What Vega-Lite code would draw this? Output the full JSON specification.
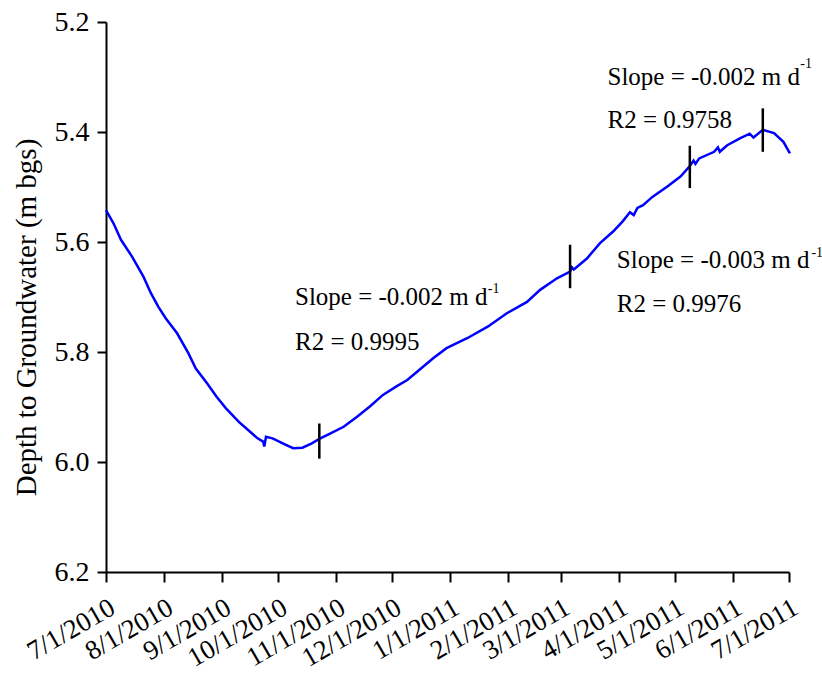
{
  "$schema": "https://vega.github.io/schema/vega-lite/v6.json",
  "width": 683,
  "height": 550,
  "autosize": {"type": "none"},
  "padding": {"left": 106, "top": 22, "right": 33, "bottom": 105},
  "background": "white",
  "config": {
    "view": {"stroke": null},
    "font": "Liberation Serif",
    "axis": {
      "grid": false,
      "domainColor": "black",
      "domainWidth": 2,
      "tickColor": "black",
      "tickWidth": 2,
      "labelColor": "black",
      "titleColor": "black",
      "labelFont": "Liberation Serif",
      "titleFont": "Liberation Serif",
      "titleFontWeight": "normal",
      "labelFlush": false
    }
  },
  "datasets": {
    "depth": [
      {"date": "2010-07-01", "depth": 5.542},
      {"date": "2010-07-05", "depth": 5.566},
      {"date": "2010-07-09", "depth": 5.596},
      {"date": "2010-07-15", "depth": 5.627},
      {"date": "2010-07-21", "depth": 5.663},
      {"date": "2010-07-25", "depth": 5.693},
      {"date": "2010-07-29", "depth": 5.718},
      {"date": "2010-08-02", "depth": 5.739},
      {"date": "2010-08-08", "depth": 5.766},
      {"date": "2010-08-14", "depth": 5.802},
      {"date": "2010-08-18", "depth": 5.830},
      {"date": "2010-08-24", "depth": 5.857},
      {"date": "2010-08-29", "depth": 5.881},
      {"date": "2010-09-03", "depth": 5.902},
      {"date": "2010-09-10", "depth": 5.927},
      {"date": "2010-09-16", "depth": 5.945},
      {"date": "2010-09-20", "depth": 5.957},
      {"date": "2010-09-23T00:00Z", "depth": 5.963},
      {"date": "2010-09-23T14:00Z", "depth": 5.972},
      {"date": "2010-09-24T12:00Z", "depth": 5.954},
      {"date": "2010-09-28", "depth": 5.957},
      {"date": "2010-10-04", "depth": 5.967},
      {"date": "2010-10-09", "depth": 5.975},
      {"date": "2010-10-14", "depth": 5.974},
      {"date": "2010-10-19", "depth": 5.966},
      {"date": "2010-10-23", "depth": 5.958},
      {"date": "2010-10-29", "depth": 5.948},
      {"date": "2010-11-05", "depth": 5.936},
      {"date": "2010-11-12", "depth": 5.918},
      {"date": "2010-11-19", "depth": 5.899},
      {"date": "2010-11-26", "depth": 5.878},
      {"date": "2010-12-03", "depth": 5.863},
      {"date": "2010-12-09", "depth": 5.851},
      {"date": "2010-12-16", "depth": 5.831},
      {"date": "2010-12-23", "depth": 5.811},
      {"date": "2010-12-30", "depth": 5.793},
      {"date": "2011-01-10", "depth": 5.775},
      {"date": "2011-01-21", "depth": 5.754},
      {"date": "2011-01-31", "depth": 5.730},
      {"date": "2011-02-11", "depth": 5.709},
      {"date": "2011-02-18", "depth": 5.687},
      {"date": "2011-02-27", "depth": 5.666},
      {"date": "2011-03-06", "depth": 5.654},
      {"date": "2011-03-07", "depth": 5.646},
      {"date": "2011-03-08", "depth": 5.650},
      {"date": "2011-03-15", "depth": 5.630},
      {"date": "2011-03-22", "depth": 5.602},
      {"date": "2011-03-29", "depth": 5.581},
      {"date": "2011-04-03", "depth": 5.563},
      {"date": "2011-04-07", "depth": 5.546},
      {"date": "2011-04-09", "depth": 5.551},
      {"date": "2011-04-11", "depth": 5.538},
      {"date": "2011-04-14", "depth": 5.533},
      {"date": "2011-04-19", "depth": 5.518},
      {"date": "2011-04-27", "depth": 5.499},
      {"date": "2011-05-04", "depth": 5.481},
      {"date": "2011-05-09", "depth": 5.462},
      {"date": "2011-05-11", "depth": 5.452},
      {"date": "2011-05-12", "depth": 5.458},
      {"date": "2011-05-14", "depth": 5.448},
      {"date": "2011-05-22", "depth": 5.436},
      {"date": "2011-05-24", "depth": 5.428},
      {"date": "2011-05-25", "depth": 5.436},
      {"date": "2011-05-29", "depth": 5.424},
      {"date": "2011-06-05", "depth": 5.411},
      {"date": "2011-06-10", "depth": 5.403},
      {"date": "2011-06-12", "depth": 5.410},
      {"date": "2011-06-17", "depth": 5.396},
      {"date": "2011-06-23", "depth": 5.402},
      {"date": "2011-06-28", "depth": 5.418},
      {"date": "2011-07-01T12:00Z", "depth": 5.439}
    ],
    "breaks": [
      {"date": "2010-10-23", "top": 5.930, "bottom": 5.994},
      {"date": "2011-03-06", "top": 5.605, "bottom": 5.684},
      {"date": "2011-05-09", "top": 5.425, "bottom": 5.502},
      {"date": "2011-06-17", "top": 5.357, "bottom": 5.436}
    ],
    "notes": [
      {"date": "2010-10-10", "depth": 5.7145, "label": "Slope = -0.002 m d"},
      {"date": "2010-10-10", "depth": 5.796, "label": "R2 = 0.9995"},
      {"date": "2011-03-26", "depth": 5.3145, "label": "Slope = -0.002 m d"},
      {"date": "2011-03-26", "depth": 5.3927, "label": "R2 = 0.9758"},
      {"date": "2011-03-31", "depth": 5.647, "label": "Slope = -0.003 m d"},
      {"date": "2011-03-31", "depth": 5.727, "label": "R2 = 0.9976"}
    ],
    "exponents": [
      {"date": "2011-01-21", "depth": 5.6927, "label": "-1"},
      {"date": "2011-07-07", "depth": 5.284, "label": "-1"},
      {"date": "2011-07-13", "depth": 5.627, "label": "-1"}
    ]
  },
  "layer": [
    {
      "data": {"name": "depth"},
      "mark": {"type": "line", "color": "#0000ff", "strokeWidth": 2.5},
      "encoding": {
        "x": {
          "field": "date",
          "type": "temporal",
          "scale": {
            "type": "utc",
            "domain": [
              {"year": 2010, "month": 7, "date": 1, "utc": true},
              {"year": 2011, "month": 7, "date": 1, "utc": true}
            ]
          },
          "axis": {
            "title": null,
            "labelExpr": "utcFormat(datum.value, '%-m/%-d/%Y')",
            "tickCount": {"interval": "month", "step": 1},
            "labelAngle": -30,
            "labelAlign": "right",
            "labelBaseline": "top",
            "labelFontSize": 27,
            "labelPadding": 12,
            "tickSize": 10,
            "labelOverlap": false
          }
        },
        "y": {
          "field": "depth",
          "type": "quantitative",
          "scale": {"domain": [5.2, 6.2], "reverse": true, "zero": false, "nice": false},
          "axis": {
            "title": "Depth to Groundwater (m bgs)",
            "values": [5.2, 5.4, 5.6, 5.8, 6.0, 6.2],
            "format": ".1f",
            "labelFontSize": 28,
            "labelPadding": 8,
            "tickSize": 9,
            "titleFontSize": 29,
            "titleAngle": 270,
            "titleBaseline": "alphabetic",
            "titleAlign": "center",
            "titleX": -71,
            "titleY": 295
          }
        }
      }
    },
    {
      "data": {"name": "breaks"},
      "mark": {"type": "rule", "color": "black", "strokeWidth": 2.5},
      "encoding": {
        "x": {"field": "date", "type": "temporal"},
        "y": {"field": "top", "type": "quantitative"},
        "y2": {"field": "bottom"}
      }
    },
    {
      "data": {"name": "notes"},
      "mark": {"type": "text", "align": "left", "baseline": "alphabetic", "fontSize": 25, "font": "Liberation Serif", "color": "black"},
      "encoding": {
        "x": {"field": "date", "type": "temporal"},
        "y": {"field": "depth", "type": "quantitative"},
        "text": {"field": "label"}
      }
    },
    {
      "data": {"name": "exponents"},
      "mark": {"type": "text", "align": "left", "baseline": "alphabetic", "fontSize": 14, "font": "Liberation Serif", "color": "black"},
      "encoding": {
        "x": {"field": "date", "type": "temporal"},
        "y": {"field": "depth", "type": "quantitative"},
        "text": {"field": "label"}
      }
    }
  ]
}
